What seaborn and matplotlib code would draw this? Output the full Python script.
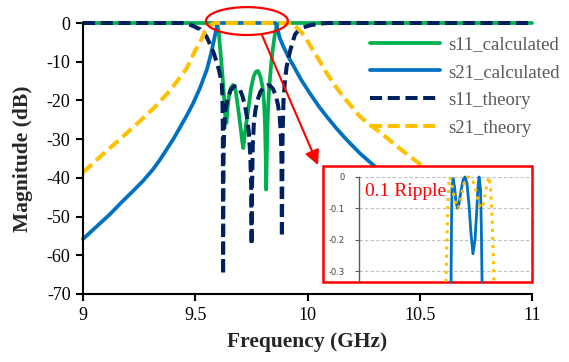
import numpy as np
import matplotlib
matplotlib.use("Agg")
import matplotlib.pyplot as plt
from matplotlib.patches import Ellipse, Rectangle
import seaborn as sns

# ---- data (frequency in GHz, magnitude in dB) ----
freq_s11_calc = [9.0, 9.58, 9.598, 9.605, 9.610, 9.616, 9.622, 9.628, 9.633, 9.639, 9.644, 9.650,
                 9.658, 9.668, 9.680, 9.692, 9.703, 9.709, 9.714, 9.720, 9.728, 9.736, 9.748, 9.760,
                 9.770, 9.780, 9.790, 9.800, 9.807, 9.811, 9.814, 9.816, 9.819, 9.823, 9.828, 9.834,
                 9.840, 9.846, 9.855, 9.864, 9.875, 11.0]
s11_calc = [0, 0, -0.5, -2.5, -6, -10, -14, -19, -23.5, -25.8, -22, -19,
            -16.8, -16, -17.5, -22.5, -27.5, -30.5, -32.3, -29, -25.5, -22.5, -17, -13.8,
            -12.6, -12.4, -13.8, -16.5, -21, -27, -35, -43, -33, -24, -18, -13.5,
            -9.5, -6.5, -2.8, -0.5, 0, 0]

freq_s21_calc = [9.0, 9.06, 9.12, 9.17, 9.223, 9.267, 9.312, 9.343, 9.40, 9.432, 9.463, 9.49,
                 9.521, 9.552, 9.57, 9.585, 9.595, 9.603, 9.73, 9.858, 9.866, 9.876, 9.892, 9.915,
                 9.937, 9.97, 10.011, 10.05, 10.086, 10.13, 10.175, 10.234, 10.301, 10.4, 10.5,
                 10.75, 11.0]
s21_calc = [-55.8, -52.6, -49.4, -46.4, -43.4, -40.8, -37.8, -35.3, -30.2, -27.0, -23.8, -20.8,
            -16.8, -12, -8, -4, -1.2, 0, 0, 0, -1.5, -3.8, -6, -8.8,
            -11, -14.5, -18.2, -21.5, -24.2, -27.3, -30.2, -33.7, -37.1, -41, -44.3,
            -48.5, -51.7]

freq_s11_theory = [9.0, 9.44, 9.48, 9.521, 9.55, 9.566, 9.582, 9.595, 9.607, 9.618, 9.621, 9.623,
                   9.624, 9.626, 9.629, 9.635, 9.645, 9.658, 9.672, 9.684, 9.697, 9.710, 9.722,
                   9.731, 9.739, 9.745, 9.749, 9.751, 9.753, 9.756, 9.761, 9.768, 9.778, 9.790,
                   9.805, 9.820, 9.833, 9.846, 9.858, 9.868, 9.876, 9.881, 9.884, 9.886, 9.889,
                   9.893, 9.900, 9.907, 9.922, 9.944, 9.967, 10.011, 10.05, 10.09, 11.0]
s11_theory = [0, 0, -0.5, -1.6, -3.5, -5.5, -7.7, -10, -12.5, -15.5, -19, -28,
              -65, -35, -27, -22.5, -19.3, -17.3, -16.4, -16.3, -17, -18.8, -21.5,
              -24.5, -28.5, -34, -42, -57.3, -42, -32, -26, -22.5, -19.8, -17.8,
              -16.6, -16.1, -16.2, -17, -18.6, -21, -24, -28.5, -35, -55.3, -30,
              -20, -14.7, -11.3, -7.3, -3, -1.4, -0.6, -0.2, 0, 0]

freq_s21_theory = [9.0, 9.06, 9.12, 9.19, 9.254, 9.32, 9.374, 9.42, 9.463, 9.499, 9.521, 9.543,
                   9.557, 9.575, 9.59, 9.93, 9.944, 9.967, 9.989, 10.026, 10.056, 10.086, 10.12,
                   10.159, 10.234, 10.278, 10.33, 10.382, 10.45, 10.516, 10.75, 11.0]
s21_theory = [-38.6, -35.4, -32.3, -28.7, -25.3, -21.7, -18.3, -15, -11.6, -7.2, -5, -2.2,
              -1.2, -0.3, 0, 0, -0.8, -2, -3.6, -7.2, -10, -13, -16,
              -19, -24.2, -26.3, -28.5, -31.1, -34.2, -37.1, -43, -48]

# passband zoom (inset), magnitude in dB
inset_freq_calc = [9.598, 9.602, 9.606, 9.615, 9.628, 9.641, 9.654, 9.667, 9.684, 9.702, 9.719,
                   9.736, 9.754, 9.771, 9.788, 9.806, 9.819, 9.832, 9.841, 9.854, 9.860, 9.867]
inset_s21_calc = [-0.335, -0.15, -0.04, -0.005, -0.03, -0.08, -0.1, -0.085, -0.045, -0.01, 0,
                  -0.02, -0.09, -0.18, -0.245, -0.2, -0.12, -0.03, 0, -0.04, -0.15, -0.335]
inset_freq_theory = [9.554, 9.563, 9.572, 9.580, 9.589, 9.606, 9.624, 9.641, 9.658, 9.676, 9.693,
                     9.710, 9.728, 9.749, 9.771, 9.797, 9.815, 9.832, 9.849, 9.862, 9.875, 9.893,
                     9.910, 9.927, 9.940, 9.953, 9.962, 9.971]
inset_s21_theory = [-0.335, -0.2, -0.08, -0.015, 0, -0.025, -0.06, -0.09, -0.1, -0.085, -0.05,
                    -0.02, -0.003, 0, -0.003, -0.02, -0.045, -0.075, -0.095, -0.1, -0.09, -0.055,
                    -0.02, 0, -0.03, -0.12, -0.22, -0.335]

x_ticks = [9, 9.5, 10, 10.5, 11]
x_tick_labels = ["9", "9.5", "10", "10.5", "11"]
y_ticks = [0, -10, -20, -30, -40, -50, -60, -70]
y_tick_labels = ["0", "-10", "-20", "-30", "-40", "-50", "-60", "-70"]
inset_y_ticks = [0, -0.1, -0.2, -0.3]
inset_y_tick_labels = ["0", "-0.1", "-0.2", "-0.3"]

sns.set_style("ticks")
plt.rcParams['font.family'] = ['Liberation Serif', 'DejaVu Serif']

W, H = 569, 362
fig = plt.figure(figsize=(W / 100, H / 100), dpi=100)
fig.patch.set_facecolor("white")
ax = fig.add_axes([83 / W, (H - 294) / H, 449 / W, 271 / H])

dash = (0, (3, 1.4))
sns.lineplot(x=freq_s11_calc, y=s11_calc, ax=ax, color="#00B050", lw=2.7,
             label="s11_calculated", sort=False, estimator=None, legend=False)
sns.lineplot(x=freq_s21_calc, y=s21_calc, ax=ax, color="#0070C0", lw=2.7,
             label="s21_calculated", sort=False, estimator=None, legend=False)
sns.lineplot(x=freq_s11_theory, y=s11_theory, ax=ax, color="#002060", lw=2.9, linestyle=dash,
             label="s11_theory", sort=False, estimator=None, legend=False)
sns.lineplot(x=freq_s21_theory, y=s21_theory, ax=ax, color="#FFC000", lw=2.9, linestyle=dash,
             label="s21_theory", sort=False, estimator=None, legend=False)
for ln in ax.lines:
    ln.set_clip_on(False)

ax.set_xlim(9, 11)
ax.set_ylim(-70, 0)
ax.set_xticks(x_ticks)
ax.set_xticklabels(x_tick_labels)
ax.set_yticks(y_ticks)
ax.set_yticklabels(y_tick_labels)
sns.despine(ax=ax)
for s in ["left", "bottom"]:
    ax.spines[s].set_color("black")
    ax.spines[s].set_linewidth(1.5)
ax.tick_params(direction="out", length=5, width=1.5, color="black", labelsize=13,
               labelcolor="black", pad=4)
ax.set_xlabel("Frequency (GHz)", fontsize=15.5, fontweight="bold")
ax.set_ylabel("Magnitude (dB)", fontsize=15.5, fontweight="bold")
ax.xaxis.set_label_coords(0.5, -0.14)
ax.yaxis.set_label_coords(-0.111, 0.5)

leg = ax.legend(loc="upper left", bbox_to_anchor=(370 / W, 1 - 36 / H),
                bbox_transform=fig.transFigure, frameon=False, fontsize=13.5,
                handlelength=3.75, handletextpad=0.4, labelspacing=0.57,
                borderpad=0, borderaxespad=0, labelcolor="#595959")

# highlight of the passband and arrow to the zoom
ax.add_patch(Ellipse((9.730, 0.5), 0.365, 7.2, fill=False, edgecolor="red", lw=1.6,
                     clip_on=False, zorder=5))
ax.annotate("", xy=(10.047, -36.7), xytext=(9.797, -3.1),
            arrowprops=dict(arrowstyle="-|>", color="red", lw=1.5, mutation_scale=22,
                            shrinkA=0, shrinkB=0), annotation_clip=False)

# inset box
fig.add_artist(Rectangle((323 / W, (H - 282) / H), 209 / W, 116 / H, transform=fig.transFigure,
                         facecolor="white", edgecolor="red", lw=1.8, zorder=2))
inax = fig.add_axes([359 / W, (H - 282) / H, 173 / W, 105 / H], zorder=3)
inax.set_facecolor("none")
sns.lineplot(x=inset_freq_calc, y=inset_s21_calc, ax=inax, color="#0070C0", lw=2,
             sort=False, estimator=None, legend=False)
sns.lineplot(x=inset_freq_theory, y=inset_s21_theory, ax=inax, color="#FFC000", lw=2.2,
             linestyle=":", sort=False, estimator=None, legend=False)
for ln in inax.lines:
    ln.set_clip_on(False)
inax.set_xlim(8.8, 10.3)
inax.set_ylim(-0.335, 0)
inax.set_xticks([])
inax.set_yticks(inset_y_ticks)
inax.set_yticklabels(inset_y_tick_labels, family="DejaVu Sans")
inax.set_xlabel("")
inax.set_ylabel("")
inax.yaxis.grid(True, linestyle=(0, (3, 2)), color="#bfbfbf", lw=0.8)
for s in ["top", "right", "bottom"]:
    inax.spines[s].set_visible(False)
inax.spines["left"].set_color("#595959")
inax.spines["left"].set_linewidth(1)
inax.tick_params(axis="y", direction="out", length=3, width=0.8, color="#595959",
                 labelsize=6, labelcolor="#404040", pad=7)

fig.text(365 / W, 1 - 192 / H, "0.1 Ripple", color="red", fontsize=14, va="center",
         ha="left", zorder=6)

fig.savefig("out.png", dpi=100)
